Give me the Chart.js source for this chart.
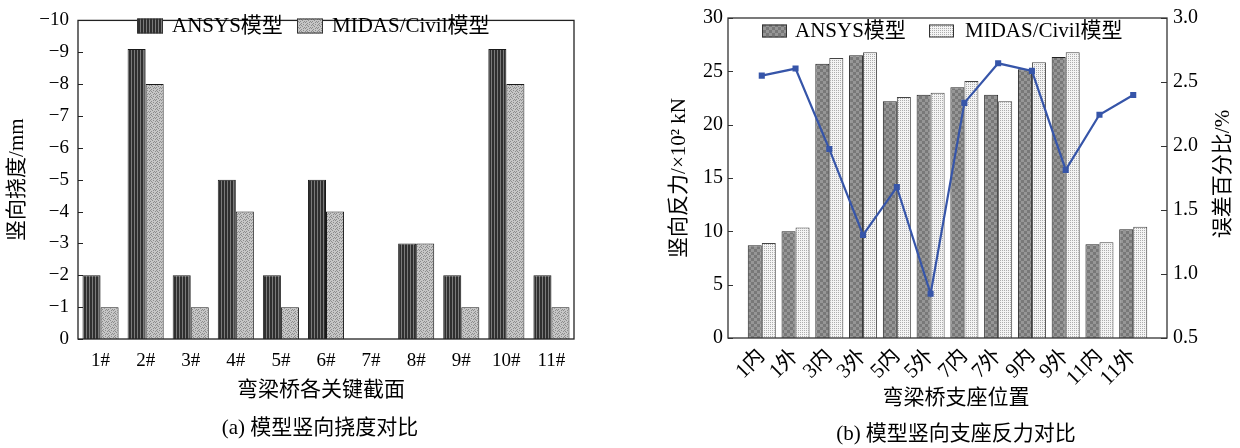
<!DOCTYPE html>
<html><head><meta charset="utf-8">
<script src="https://cdn.jsdelivr.net/npm/chart.js@4.4.1/dist/chart.umd.min.js"></script>
<style>
html,body{margin:0;padding:0;background:#fff;width:1240px;height:448px;overflow:hidden}
#a{position:absolute;left:0;top:0;}
#b{position:absolute;left:640px;top:0;}
</style></head><body>
<canvas id="a" width="640" height="448"></canvas>
<canvas id="b" width="600" height="448"></canvas>
<script>
// ---------- data (a) ----------
const sectionLabels = ['1#','2#','3#','4#','5#','6#','7#','8#','9#','10#','11#'];
const ansysDeflection = [-2, -9.1, -2, -5, -2, -5, 0, -3, -2, -9.1, -2];
const midasDeflection = [-1, -8, -1, -4, -1, -4, 0, -3, -1, -8, -1];
const deflectionRange = [-10, 0];

// ---------- data (b) ----------
const bearingLabels = ['1内','1外','3内','3外','5内','5外','7内','7外','9内','9外','11内','11外'];
const ansysReaction = [8.7, 10.0, 25.7, 26.5, 22.2, 22.8, 23.5, 22.8, 25.2, 26.35, 8.8, 10.2];
const midasReaction = [8.9, 10.37, 26.25, 26.8, 22.6, 23.0, 24.1, 22.2, 25.85, 26.8, 8.98, 10.43];
const errorPercent = [2.55, 2.605, 1.976, 1.305, 1.679, 0.846, 2.337, 2.646, 2.587, 1.813, 2.244, 2.399];
const reactionRange = [0, 30];
const errorRange = [0.5, 3.0];

const seriesNames = ['ANSYS模型', 'MIDAS/Civil模型'];

// ---------- styling helpers ----------
const FONT = "'Liberation Serif','Noto Sans CJK SC',serif";
Chart.defaults.font.family = FONT;
Chart.defaults.color = '#000';

function makePattern(w, h, draw) {
  const c = document.createElement('canvas');
  c.width = w; c.height = h;
  const g = c.getContext('2d');
  draw(g);
  return c.getContext('2d').createPattern(c, 'repeat');
}
const patStripeDark = makePattern(3, 2, g => {
  g.fillStyle = '#2f2f2f'; g.fillRect(0, 0, 3, 2);
  g.fillStyle = '#7a7a7a'; g.fillRect(2, 0, 1, 2);
});
const speckleDots = [[0,0],[3,0],[1,1],[5,1],[2,2],[4,3],[0,3],[3,4],[5,4],[1,5]];
const patSpeckleGrey = makePattern(6, 6, g => {
  g.fillStyle = '#c6c6c6'; g.fillRect(0, 0, 6, 6);
  g.fillStyle = '#8c8c8c';
  speckleDots.forEach(([x, y]) => g.fillRect(x, y, 1, 1));
});
const patChecker = makePattern(6, 6, g => {
  g.fillStyle = '#787878'; g.fillRect(0, 0, 6, 6);
  g.fillStyle = '#969696'; g.fillRect(0, 0, 3, 3); g.fillRect(3, 3, 3, 3);
});
const patDots = makePattern(2, 2, g => {
  g.fillStyle = '#f4f4f4'; g.fillRect(0, 0, 2, 2);
  g.fillStyle = '#adadad'; g.fillRect(0, 0, 1, 1);
});

// frame + inward ticks
const framePlugin = {
  id: 'frame',
  afterDatasetsDraw(chart, args, opts) {
    const {ctx, chartArea: a} = chart;
    ctx.save();
    ctx.strokeStyle = opts.color || '#222';
    ctx.lineWidth = opts.width || 1.3;
    ctx.strokeRect(a.left, a.top, a.right - a.left, a.bottom - a.top);
    ctx.lineWidth = 1;
    Object.values(chart.scales).forEach(s => {
      if (s.axis !== 'y') return;
      s.ticks.forEach((t, i) => {
        const y = Math.round(s.getPixelForTick(i)) + 0.5;
        ctx.beginPath();
        if (s.position === 'left') { ctx.moveTo(a.left, y); ctx.lineTo(a.left + 5, y); }
        else { ctx.moveTo(a.right, y); ctx.lineTo(a.right - 6, y); }
        ctx.stroke();
      });
    });
    ctx.restore();
  }
};

// legend inside the plot frame
const innerLegend = {
  id: 'innerLegend',
  afterDraw(chart, args, o) {
    const {ctx} = chart;
    ctx.save();
    ctx.font = o.fontSize + 'px ' + FONT;
    ctx.textBaseline = 'middle';
    o.items.forEach(it => {
      const ds = chart.data.datasets[it.dataset];
      ctx.fillStyle = ds.backgroundColor;
      ctx.fillRect(it.box, o.y - o.boxH / 2, o.boxW, o.boxH);
      ctx.strokeStyle = '#333'; ctx.lineWidth = 1;
      ctx.strokeRect(it.box + 0.5, o.y - o.boxH / 2 + 0.5, o.boxW - 1, o.boxH - 1);
      ctx.fillStyle = '#000';
      ctx.fillText(ds.label, it.text, o.y);
    });
    ctx.restore();
  }
};

// extra texts (captions, titles)
const extraText = {
  id: 'extraText',
  afterDraw(chart, args, o) {
    const {ctx} = chart;
    o.items.forEach(it => {
      ctx.save();
      ctx.font = (it.size || 21) + 'px ' + FONT;
      ctx.fillStyle = '#000';
      ctx.textAlign = 'center';
      ctx.textBaseline = 'middle';
      ctx.translate(it.x, it.y);
      if (it.rot) ctx.rotate(it.rot);
      ctx.fillText(it.text, 0, 0);
      ctx.restore();
    });
  }
};

const minusFmt = v => (v === 0 ? '0' : (v < 0 ? '\u2212' : '') + Math.abs(v));

// ---------- chart (a) ----------
new Chart(document.getElementById('a'), {
  type: 'bar',
  data: {
    labels: sectionLabels,
    datasets: [
      { label: seriesNames[0], data: ansysDeflection, backgroundColor: patStripeDark, borderColor: '#1a1a1a', borderWidth: 1 },
      { label: seriesNames[1], data: midasDeflection, backgroundColor: patSpeckleGrey, borderColor: '#1a1a1a', borderWidth: 1 }
    ]
  },
  options: {
    responsive: false, animation: false,
    layout: { padding: { left: 0, right: 66, top: 13, bottom: 0 } },
    datasets: { bar: { categoryPercentage: 0.8, barPercentage: 1.0 } },
    plugins: {
      legend: { display: false }, tooltip: { enabled: false },
      frame: { color: '#222', width: 1.3 },
      innerLegend: { y: 26, boxW: 26, boxH: 15, fontSize: 21,
        items: [ { dataset: 0, box: 137, text: 172 }, { dataset: 1, box: 297, text: 332 } ] },
      extraText: { items: [
        { text: '弯梁桥各关键截面', x: 321, y: 390 },
        { text: '(a) 模型竖向挠度对比', x: 320, y: 428 }
      ] }
    },
    scales: {
      x: {
        grid: { display: false, drawTicks: false }, border: { display: false },
        ticks: { font: { size: 19 }, padding: 11, maxRotation: 0 },
        afterFit(s) { s.height = 109; }
      },
      y: {
        min: deflectionRange[0], max: deflectionRange[1], reverse: true,
        grid: { display: false, drawTicks: false }, border: { display: false },
        ticks: { stepSize: 1, font: { size: 19 }, padding: 9, callback: minusFmt },
        title: { display: true, text: '竖向挠度/mm', font: { size: 21 }, padding: { top: 5 } },
        afterFit(s) { s.width = 78; }
      }
    }
  },
  plugins: [framePlugin, innerLegend, extraText]
});

// ---------- chart (b) ----------
const pad = arr => [null, ...arr, null];
new Chart(document.getElementById('b'), {
  type: 'bar',
  data: {
    labels: ['', ...bearingLabels, ''],
    datasets: [
      { type: 'line', label: '误差百分比', data: pad(errorPercent), yAxisID: 'y2', order: 0,
        borderColor: '#3655a9', borderWidth: 2.2, backgroundColor: '#3655a9',
        pointStyle: 'rect', pointRadius: 4.3, pointBackgroundColor: '#3655a9', pointBorderWidth: 0, tension: 0 },
      { label: seriesNames[0], data: pad(ansysReaction), yAxisID: 'y', order: 1,
        backgroundColor: patChecker, borderColor: '#222', borderWidth: 1 },
      { label: seriesNames[1], data: pad(midasReaction), yAxisID: 'y', order: 1,
        backgroundColor: patDots, borderColor: '#444', borderWidth: 1 }
    ]
  },
  options: {
    responsive: false, animation: false,
    layout: { padding: { left: 0, right: 0, top: 15, bottom: 0 } },
    datasets: { bar: { categoryPercentage: 0.83, barPercentage: 1.0 } },
    plugins: {
      legend: { display: false }, tooltip: { enabled: false },
      frame: { color: '#333', width: 1.3 },
      innerLegend: { y: 31, boxW: 25, boxH: 13, fontSize: 21,
        items: [ { dataset: 1, box: 122, text: 155 }, { dataset: 2, box: 289, text: 325 } ] },
      extraText: { items: [
        { text: '弯梁桥支座位置', x: 316, y: 398 },
        { text: '(b) 模型竖向支座反力对比', x: 316, y: 434 },
        { text: '误差百分比/%', x: 583, y: 174, rot: -Math.PI / 2 }
      ] }
    },
    scales: {
      x: {
        offset: false,
        grid: { display: false, drawTicks: false }, border: { display: false },
        ticks: { font: { size: 21 }, padding: 6, autoSkip: false, minRotation: 45, maxRotation: 45 },
        afterFit(s) { s.height = 110; }
      },
      y: {
        position: 'left', min: reactionRange[0], max: reactionRange[1],
        grid: { display: false, drawTicks: false }, border: { display: false },
        ticks: { stepSize: 5, font: { size: 20 }, padding: 5 },
        title: { display: true, text: '竖向反力/×10² kN', font: { size: 21 }, padding: { top: 27 } },
        afterFit(s) { s.width = 88; }
      },
      y2: {
        position: 'right', min: errorRange[0], max: errorRange[1],
        grid: { display: false, drawTicks: false }, border: { display: false },
        ticks: { stepSize: 0.5, font: { size: 20 }, padding: 6, callback: v => v.toFixed(1) },
        afterFit(s) { s.width = 73; }
      }
    }
  },
  plugins: [framePlugin, innerLegend, extraText]
});
</script>
</body></html>
